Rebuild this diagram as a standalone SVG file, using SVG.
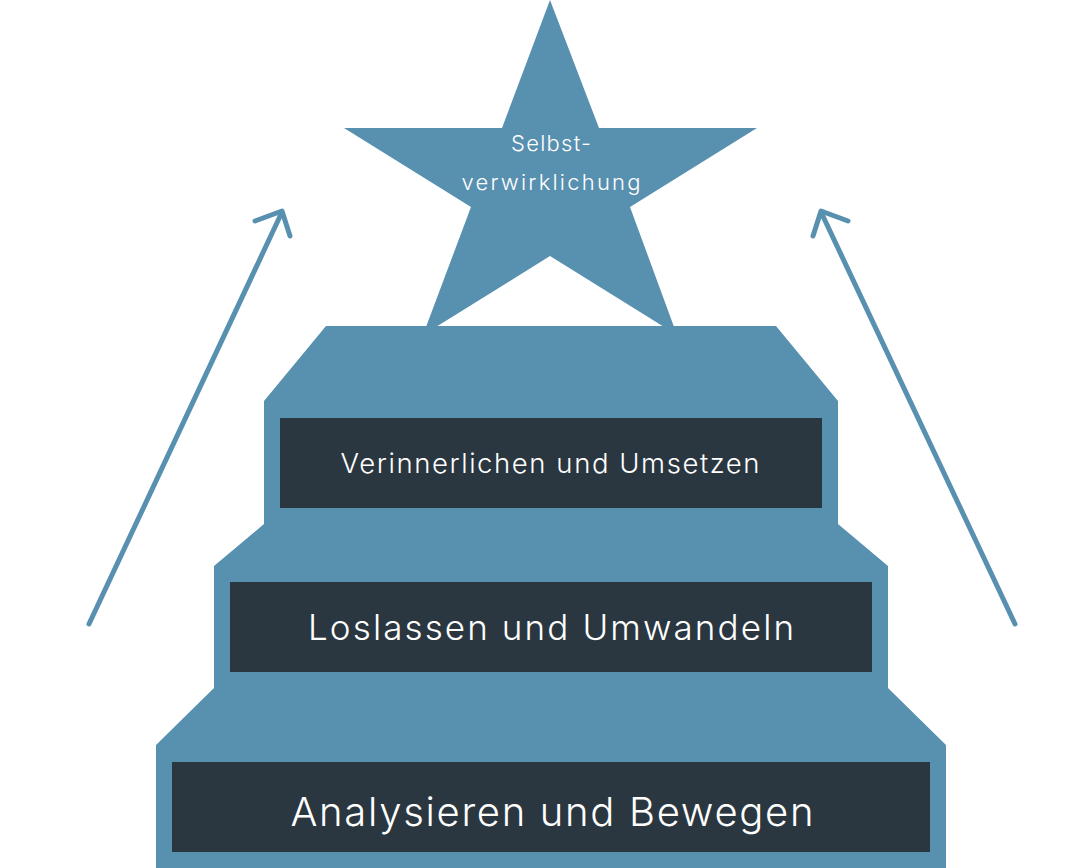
<svg xmlns="http://www.w3.org/2000/svg" width="1086" height="868" viewBox="0 0 1086 868">
<style>
.shape{fill:#5890b0}
.box{fill:#2b3740}
.lbl{fill:#ffffff;font-family:Inter,"Open Sans","Liberation Sans",sans-serif;font-weight:300;text-anchor:middle}
.arrow{fill:none;stroke:#5890b0;stroke-width:5;stroke-linecap:round;stroke-linejoin:round}
</style>
<rect width="1086" height="868" fill="#ffffff"/>
<g id="star">
<polygon class="shape" points="550,0 599,128 757,128 630,207 677,335 550,256 423,335 471,207 344,128 502,128"/>
<text class="lbl" x="551" y="151" font-size="22" textLength="80" lengthAdjust="spacing">Selbst-</text>
<text class="lbl" x="551" y="190" font-size="22" textLength="179" lengthAdjust="spacing">verwirklichung</text>
</g>
<g id="stairs">
<polygon class="shape" points="326,326 776,326 838,401 838,524 888,566 888,688 946,745 946,868 156,868 156,745 214,688 214,566 264,524 264,401"/>
</g>
<g id="step3">
<rect class="box" x="280" y="418" width="542" height="90"/>
<text class="lbl" x="550" y="473" font-size="27.5" textLength="419" lengthAdjust="spacing">Verinnerlichen und Umsetzen</text>
</g>
<g id="step2">
<rect class="box" x="230" y="582" width="642" height="90"/>
<text class="lbl" x="551" y="640" font-size="35" textLength="486" lengthAdjust="spacing">Loslassen und Umwandeln</text>
</g>
<g id="step1">
<rect class="box" x="172" y="762" width="758" height="90"/>
<text class="lbl" x="552" y="826" font-size="40" textLength="523" lengthAdjust="spacing">Analysieren und Bewegen</text>
</g>
<g id="connectors">
<path class="arrow" d="M89,624 L282,212 M255,221 L282,211 L290,236"/>
<path class="arrow" d="M1015,624 L821,212 M848,221 L821,211 L813,236"/>
</g>
</svg>
